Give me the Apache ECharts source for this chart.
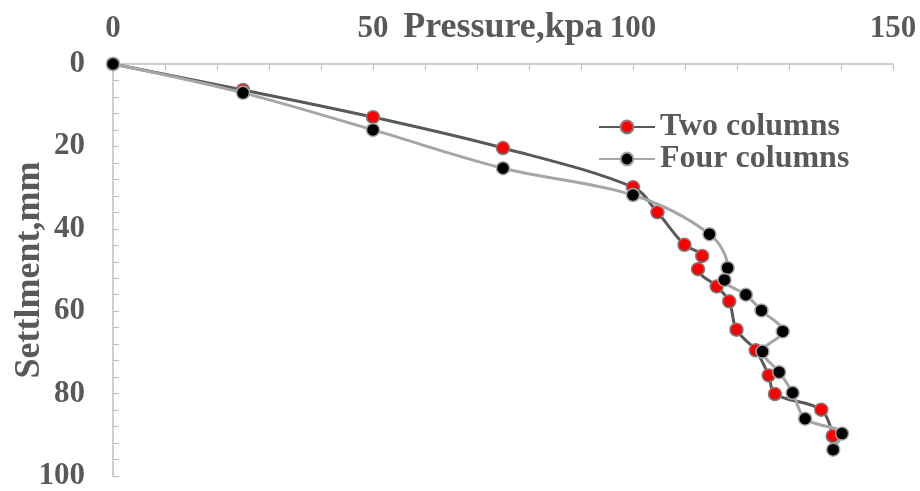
<!DOCTYPE html>
<html><head><meta charset="utf-8">
<script src="https://cdn.jsdelivr.net/npm/echarts@6/dist/echarts.min.js"></script>
<style>html,body{margin:0;padding:0;background:#fff}#c{width:920px;height:491px}</style>
</head><body><div id="c"></div>
<script>
// Two columns: pressure (kpa), settlement (mm)
var twoPressure = [0, 25, 50, 75, 100, 104.7, 109.9, 113.3, 112.5, 116.1, 118.5, 119.9, 123.6, 126.1, 127.3, 136.2, 138.4];
var twoSettle   = [0, 6.3, 12.9, 20.4, 29.9, 36.0, 43.9, 46.6, 49.8, 54.0, 57.6, 64.5, 69.5, 75.6, 80.1, 83.9, 90.3];
// Four columns
var fourPressure = [0, 25, 50, 75, 100, 114.7, 118.2, 117.6, 121.7, 124.7, 128.8, 124.9, 128.1, 130.7, 133.1, 140.2, 138.5];
var fourSettle   = [0, 7.0, 16.0, 25.3, 31.8, 41.3, 49.5, 52.4, 56.0, 59.8, 64.9, 69.8, 74.8, 79.8, 86.1, 89.7, 93.6];
var seriesNames = ['Two columns', 'Four columns'];
var xTitle = 'Pressure,kpa';
var yTitle = 'Settlment,mm';

function pairs(xs, ys) { return xs.map(function (x, i) { return [x, ys[i]]; }); }

var FONT = 'Liberation Serif';
var TXT = '#595959';
var AX = '#bfbfbf';

var chart = echarts.init(document.getElementById('c'));
chart.setOption({
  animation: false,
  backgroundColor: '#fff',
  grid: { left: 113, top: 64, right: 27, bottom: 15, containLabel: false, outerBoundsMode: 'none' },
  legend: {
    orient: 'vertical', left: 593, top: 106, itemGap: 0,
    itemWidth: 56, itemHeight: 16,
    textStyle: { fontFamily: FONT, fontWeight: 700, fontSize: 32, color: TXT, lineHeight: 31 },
    data: seriesNames
  },
  xAxis: {
    type: 'value', position: 'top', min: 0, max: 150, interval: 50,
    name: xTitle, nameLocation: 'middle', nameGap: 18, nameMoveOverlap: false,
    nameTextStyle: { fontFamily: FONT, fontWeight: 700, fontSize: 36, color: TXT },
    axisLine: { show: true, lineStyle: { color: AX, width: 1.5 } },
    axisTick: { show: true, inside: true, length: 6, lineStyle: { color: AX, width: 1.2 } },
    minorTick: { show: true, splitNumber: 5, length: 6, lineStyle: { color: AX, width: 1.2 } },
    splitLine: { show: false },
    axisLabel: { fontFamily: FONT, fontWeight: 700, fontSize: 31, color: TXT, margin: 20 }
  },
  yAxis: {
    type: 'value', inverse: true, min: 0, max: 100, interval: 20,
    name: yTitle, nameLocation: 'middle', nameGap: 65, nameMoveOverlap: false,
    nameTextStyle: { fontFamily: FONT, fontWeight: 700, fontSize: 36, color: TXT },
    axisLine: { show: true, lineStyle: { color: AX, width: 1.5 } },
    axisTick: { show: true, inside: true, length: 6, lineStyle: { color: AX, width: 1.2 } },
    minorTick: { show: true, splitNumber: 5, length: 6, lineStyle: { color: AX, width: 1.2 } },
    splitLine: { show: false },
    axisLabel: { fontFamily: FONT, fontWeight: 700, fontSize: 31, color: TXT, margin: 28 }
  },
  series: [
    {
      name: seriesNames[0], type: 'line', smooth: 0.35,
      data: pairs(twoPressure, twoSettle),
      symbol: 'circle', symbolSize: 13, z: 2,
      lineStyle: { color: '#595959', width: 3 },
      itemStyle: { color: '#ff0000', borderColor: '#7f7f7f', borderWidth: 1.5 }
    },
    {
      name: seriesNames[1], type: 'line', smooth: 0.35,
      data: pairs(fourPressure, fourSettle),
      symbol: 'circle', symbolSize: 13, z: 3,
      lineStyle: { color: '#a6a6a6', width: 3 },
      itemStyle: { color: '#000000', borderColor: '#a6a6a6', borderWidth: 1.5 }
    }
  ]
});
</script></body></html>
